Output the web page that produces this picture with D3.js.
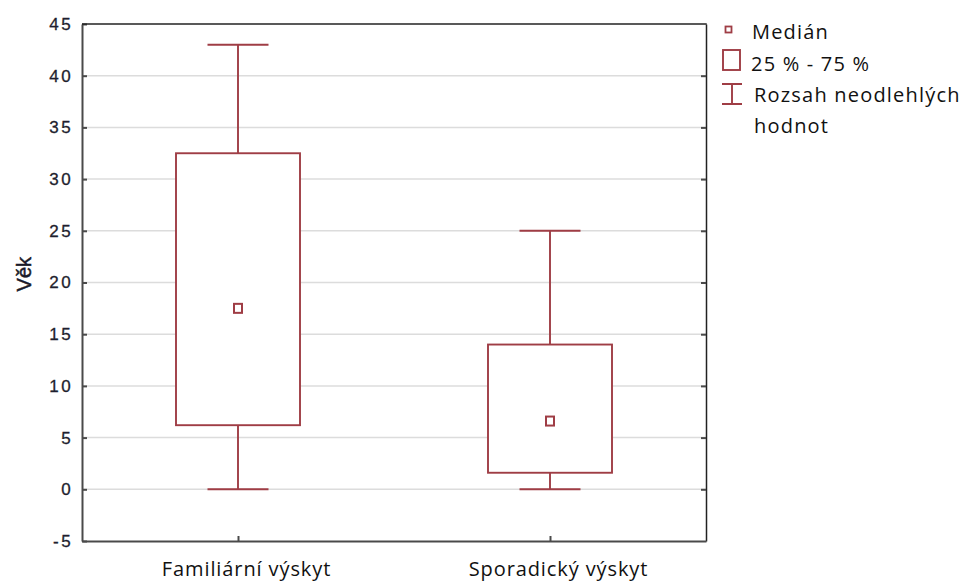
<!DOCTYPE html>
<html>
<head>
<meta charset="utf-8">
<script src="https://cdn.jsdelivr.net/npm/d3@7/dist/d3.min.js"></script>
<style>
  html, body { margin: 0; padding: 0; background: #fff; }
  svg { display: block; }
</style>
</head>
<body>
<svg id="chart" width="965" height="581"></svg>
<script>
// Age distribution by occurrence type
const categories = ["Familiární výskyt", "Sporadický výskyt"];
const whiskerLow  = [0, 0];
const q1          = [6.2, 1.6];
const median      = [17.5, 6.6];
const q3          = [32.5, 14];
const whiskerHigh = [43, 25];
const yTicks = [-5, 0, 5, 10, 15, 20, 25, 30, 35, 40, 45];
const legendItems = ["Medián", "25 % - 75 %", "Rozsah neodlehlých"];

const red = "#9f3d45";
const axisColor = "#4a4a4a";
const svg = d3.select("#chart");
const m = { left: 82, right: 706, top: 24, bottom: 541 };

const x = d3.scalePoint().domain(categories).range([m.left, m.right]).padding(0.5);
const y = d3.scaleLinear().domain([-5, 45]).range([m.bottom, m.top]);

// gridlines
svg.append("g").selectAll("line").data(yTicks.filter(t => t > -5 && t < 45)).join("line")
  .attr("x1", m.left).attr("x2", m.right)
  .attr("y1", d => y(d)).attr("y2", d => y(d))
  .attr("stroke", "#dcdcdc").attr("stroke-width", 1.5);

// left axis with inward ticks
const yAxis = svg.append("g").attr("transform", `translate(${m.left},0)`)
  .call(d3.axisLeft(y).tickValues(yTicks).tickFormat(d => String(d)).tickSize(-5).tickSizeOuter(0));
yAxis.select(".domain").attr("stroke", axisColor).attr("stroke-width", 2);
yAxis.selectAll(".tick line").attr("stroke", axisColor).attr("stroke-width", 2);
yAxis.selectAll(".tick text")
  .attr("font-family", "Liberation Sans, Arial, sans-serif")
  .attr("font-size", 17).attr("fill", "#1e1e2e").attr("letter-spacing", 2.4)
  .attr("stroke", "#1e1e2e").attr("stroke-width", 0.3)
  .attr("x", -9);

// right axis ticks
const yAxisR = svg.append("g").attr("transform", `translate(${m.right},0)`)
  .call(d3.axisRight(y).tickValues(yTicks.filter(t => t > -5 && t < 45)).tickSize(-5).tickFormat("").tickSizeOuter(0));
yAxisR.select(".domain").attr("stroke", "#222").attr("stroke-width", 1.5);
yAxisR.selectAll(".tick line").attr("stroke", axisColor).attr("stroke-width", 2);

// top border
svg.append("line").attr("x1", m.left).attr("x2", m.right + 0.75)
  .attr("y1", m.top).attr("y2", m.top).attr("stroke", "#222").attr("stroke-width", 1.5);

// bottom axis
const xAxis = svg.append("g").attr("transform", `translate(0,${m.bottom})`)
  .call(d3.axisBottom(x).tickSize(-5).tickSizeOuter(0));
xAxis.select(".domain").attr("stroke", axisColor).attr("stroke-width", 2);
xAxis.selectAll(".tick line").attr("stroke", axisColor).attr("stroke-width", 2);
xAxis.selectAll(".tick text")
  .attr("font-family", "Open Sans, Noto Sans, sans-serif")
  .attr("font-size", 20).attr("fill", "#111").attr("letter-spacing", 0.9)
  .attr("dy", 0).attr("y", 35).attr("dx", 8);

// y title
svg.append("text")
  .attr("transform", `translate(31,${y(20.8)}) rotate(-90)`)
  .attr("text-anchor", "middle")
  .attr("font-family", "Liberation Sans, Arial, sans-serif")
  .attr("font-size", 20).attr("fill", "#1a1a2a")
  .attr("stroke", "#1a1a2a").attr("stroke-width", 0.5)
  .text("Věk");

// boxes
const boxW = 124, capW = 61;
const data = categories.map((c, i) => ({ c, lo: whiskerLow[i], q1: q1[i], med: median[i], q3: q3[i], hi: whiskerHigh[i] }));
const g = svg.append("g").attr("stroke", red).attr("fill", "none").attr("stroke-width", 1.9);
const b = g.selectAll("g").data(data).join("g");
b.append("line").attr("x1", d => x(d.c)).attr("x2", d => x(d.c)).attr("y1", d => y(d.hi)).attr("y2", d => y(d.q3));
b.append("line").attr("x1", d => x(d.c)).attr("x2", d => x(d.c)).attr("y1", d => y(d.q1)).attr("y2", d => y(d.lo));
b.append("line").attr("x1", d => x(d.c) - capW / 2).attr("x2", d => x(d.c) + capW / 2).attr("y1", d => y(d.hi)).attr("y2", d => y(d.hi));
b.append("line").attr("x1", d => x(d.c) - capW / 2).attr("x2", d => x(d.c) + capW / 2).attr("y1", d => y(d.lo)).attr("y2", d => y(d.lo));
b.append("rect").attr("x", d => x(d.c) - boxW / 2).attr("width", boxW)
  .attr("y", d => y(d.q3)).attr("height", d => y(d.q1) - y(d.q3)).attr("fill", "#fff");
b.append("rect").attr("x", d => x(d.c) - 4).attr("width", 8)
  .attr("y", d => y(d.med) - 4.5).attr("height", 9).attr("fill", "#fff").attr("stroke-width", 2);

// legend
const lg = svg.append("g");
lg.append("rect").attr("x", 725.5).attr("y", 26.5).attr("width", 6).attr("height", 6)
  .attr("fill", "none").attr("stroke", red).attr("stroke-width", 1.8);
lg.append("rect").attr("x", 723).attr("y", 50).attr("width", 17).attr("height", 20)
  .attr("fill", "none").attr("stroke", red).attr("stroke-width", 1.9);
lg.append("path").attr("d", "M722,84H742M732,84V104M722,104H742")
  .attr("fill", "none").attr("stroke", red).attr("stroke-width", 1.9);
const lt = lg.append("g").attr("font-family", "Open Sans, Noto Sans, sans-serif")
  .attr("font-size", 20).attr("fill", "#111").attr("letter-spacing", 1.2);
lt.append("text").attr("x", 752).attr("y", 39).text(legendItems[0]);
lt.append("text").attr("x", 751).attr("y", 71).text(legendItems[1]);
lt.append("text").attr("x", 754).attr("y", 102).text(legendItems[2]);
lt.append("text").attr("x", 754).attr("y", 133).text("hodnot");
</script>
</body>
</html>
